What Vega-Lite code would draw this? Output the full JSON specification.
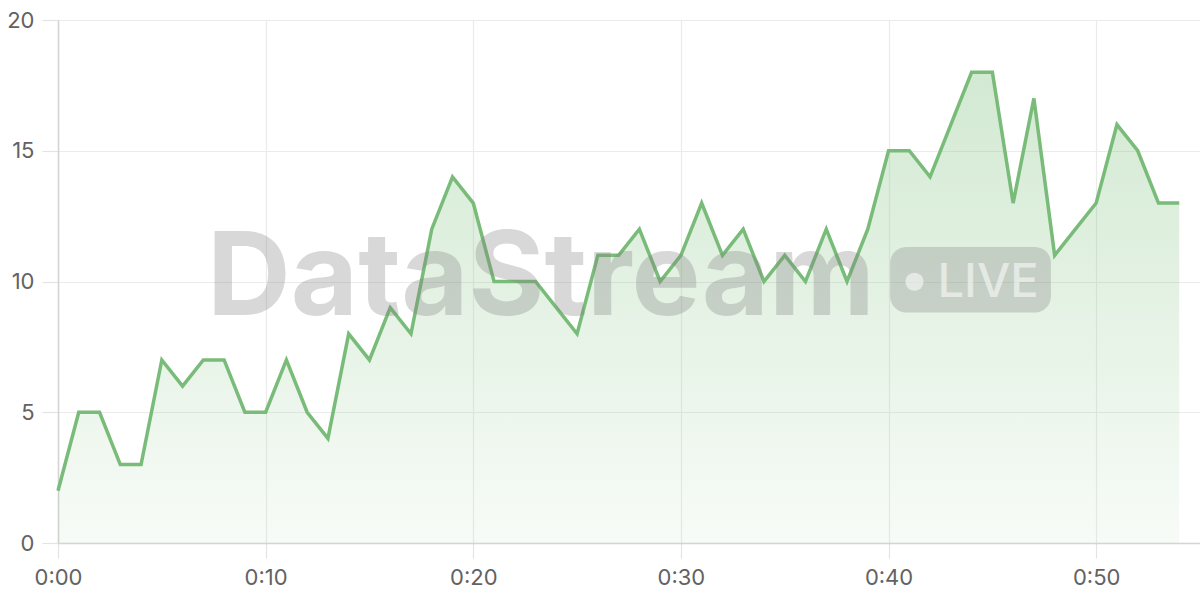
{
  "$schema": "https://vega.github.io/schema/vega-lite/v6.json",
  "autosize": {"type": "none"},
  "padding": {"left": 58, "top": 20, "right": 0, "bottom": 57},
  "width": 1142,
  "height": 523,
  "config": {
    "background": "white",
    "view": {"stroke": null},
    "font": "Inter",
    "axis": {
      "labelFont": "Inter",
      "labelFontSize": 22,
      "labelColor": "#626262",
      "gridColor": "#ebebeb",
      "gridWidth": 1.2,
      "tickColor": "#e3e3e3",
      "tickWidth": 1.2,
      "domainColor": "#d4d4d4",
      "domainWidth": 1.5,
      "title": null
    }
  },
  "datasets": {
    "series": [
      {"minute": 0, "value": 2}, {"minute": 1, "value": 5}, {"minute": 2, "value": 5},
      {"minute": 3, "value": 3}, {"minute": 4, "value": 3}, {"minute": 5, "value": 7},
      {"minute": 6, "value": 6}, {"minute": 7, "value": 7}, {"minute": 8, "value": 7},
      {"minute": 9, "value": 5}, {"minute": 10, "value": 5}, {"minute": 11, "value": 7},
      {"minute": 12, "value": 5}, {"minute": 13, "value": 4}, {"minute": 14, "value": 8},
      {"minute": 15, "value": 7}, {"minute": 16, "value": 9}, {"minute": 17, "value": 8},
      {"minute": 18, "value": 12}, {"minute": 19, "value": 14}, {"minute": 20, "value": 13},
      {"minute": 21, "value": 10}, {"minute": 22, "value": 10}, {"minute": 23, "value": 10},
      {"minute": 24, "value": 9}, {"minute": 25, "value": 8}, {"minute": 26, "value": 11},
      {"minute": 27, "value": 11}, {"minute": 28, "value": 12}, {"minute": 29, "value": 10},
      {"minute": 30, "value": 11}, {"minute": 31, "value": 13}, {"minute": 32, "value": 11},
      {"minute": 33, "value": 12}, {"minute": 34, "value": 10}, {"minute": 35, "value": 11},
      {"minute": 36, "value": 10}, {"minute": 37, "value": 12}, {"minute": 38, "value": 10},
      {"minute": 39, "value": 12}, {"minute": 40, "value": 15}, {"minute": 41, "value": 15},
      {"minute": 42, "value": 14}, {"minute": 43, "value": 16}, {"minute": 44, "value": 18},
      {"minute": 45, "value": 18}, {"minute": 46, "value": 13}, {"minute": 47, "value": 17},
      {"minute": 48, "value": 11}, {"minute": 49, "value": 12}, {"minute": 50, "value": 13},
      {"minute": 51, "value": 16}, {"minute": 52, "value": 15}, {"minute": 53, "value": 13},
      {"minute": 54, "value": 13}
    ],
    "brand": [{"name": "DataStream", "badge": "LIVE"}]
  },
  "layer": [
    {
      "data": {"name": "series"},
      "mark": {
        "type": "area",
        "fill": {
          "gradient": "linear",
          "x1": 0, "y1": 0, "x2": 0, "y2": 1,
          "stops": [
            {"offset": 0, "color": "rgba(124,191,123,0.34)"},
            {"offset": 1, "color": "rgba(124,191,123,0.06)"}
          ]
        }
      },
      "encoding": {
        "x": {
          "field": "minute",
          "type": "quantitative",
          "scale": {"domain": [0, 55], "nice": false},
          "axis": {
            "values": [0, 10, 20, 30, 40, 50],
            "labelExpr": "'0:' + (datum.value < 10 ? '0' : '') + datum.value",
            "tickSize": 15,
            "labelPadding": 9,
            "labelFlush": false
          }
        },
        "y": {
          "field": "value",
          "type": "quantitative",
          "scale": {"domain": [0, 20], "nice": false},
          "axis": {"values": [0, 5, 10, 15, 20], "tickSize": 16, "labelPadding": 8}
        }
      }
    },
    {
      "data": {"name": "series"},
      "mark": {"type": "line", "color": "#79bb78", "strokeWidth": 3.5, "strokeJoin": "miter"},
      "encoding": {
        "x": {"field": "minute", "type": "quantitative"},
        "y": {"field": "value", "type": "quantitative"}
      }
    },
    {
      "data": {"name": "brand"},
      "mark": {
        "type": "text",
        "font": "Inter",
        "fontWeight": "bold",
        "fontSize": 116,
        "align": "center",
        "baseline": "alphabetic",
        "color": "#808080",
        "opacity": 0.3
      },
      "encoding": {
        "x": {"datum": 23.26, "type": "quantitative"},
        "y": {"datum": 8.72, "type": "quantitative"},
        "text": {"field": "name"}
      }
    },
    {
      "data": {"name": "brand"},
      "mark": {"type": "rect", "cornerRadius": 16, "color": "#808080", "opacity": 0.3},
      "encoding": {
        "x": {"datum": 40.08, "type": "quantitative"},
        "x2": {"datum": 47.82},
        "y": {"datum": 11.32, "type": "quantitative"},
        "y2": {"datum": 8.81}
      }
    },
    {
      "data": {"name": "brand"},
      "mark": {"type": "point", "shape": "circle", "filled": true, "size": 330, "color": "white", "opacity": 0.55},
      "encoding": {
        "x": {"datum": 41.25, "type": "quantitative"},
        "y": {"datum": 9.99, "type": "quantitative"}
      }
    },
    {
      "data": {"name": "brand"},
      "mark": {
        "type": "text",
        "font": "Inter",
        "fontWeight": 500,
        "fontSize": 47,
        "align": "left",
        "baseline": "alphabetic",
        "color": "white",
        "opacity": 0.55
      },
      "encoding": {
        "x": {"datum": 42.36, "type": "quantitative"},
        "y": {"datum": 9.41, "type": "quantitative"},
        "text": {"field": "badge"}
      }
    }
  ]
}
